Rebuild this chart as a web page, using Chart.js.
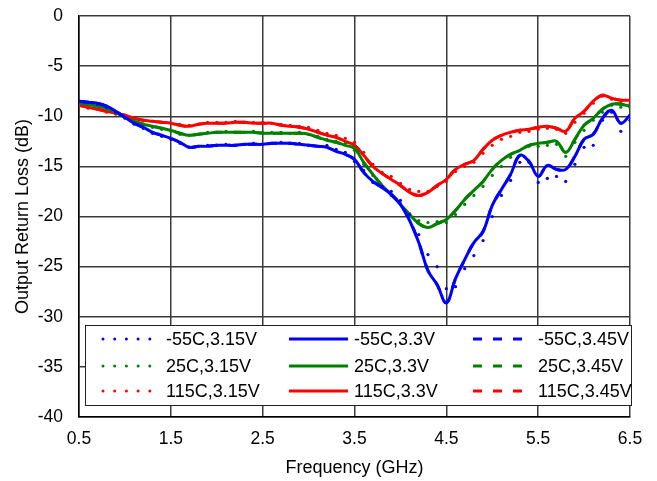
<!DOCTYPE html>
<html>
<head>
<meta charset="utf-8">
<script src="https://cdn.jsdelivr.net/npm/chart.js@4/dist/chart.umd.min.js"></script>
<style>
  html, body { margin: 0; padding: 0; background: #fff; }
  #wrap { width: 657px; height: 481px; }
</style>
</head>
<body>
<div id="wrap"><canvas id="c" width="657" height="481"></canvas></div>
<script>
// frequency points (GHz)
const freq = [0.5,0.6,0.7,0.8,0.9,1.0,1.1,1.2,1.3,1.4,1.5,1.6,1.7,1.8,1.9,2.0,2.1,2.2,2.3,2.4,
  2.5,2.6,2.7,2.8,2.9,3.0,3.1,3.2,3.3,3.4,3.5,3.6,3.7,3.8,3.9,4.0,4.1,4.2,4.3,4.4,
  4.5,4.6,4.7,4.8,4.9,5.0,5.1,5.2,5.3,5.4,5.5,5.6,5.7,5.8,5.9,6.0,6.1,6.2,6.3,6.4,6.5];

// -55C
const m55_315 = [-8.5,-8.6,-8.8,-9.1,-9.6,-10.2,-10.8,-11.2,-11.7,-12.0,-12.3,-12.7,-13.1,-13.0,-12.9,-12.9,-12.8,-12.9,-12.8,-12.7,
  -12.8,-12.7,-12.6,-12.7,-12.7,-12.9,-13.0,-12.9,-13.3,-13.6,-14.5,-15.4,-16.6,-17.0,-17.5,-18.4,-19.8,-21.8,-23.8,-25.0,
  -27.2,-27.0,-25.2,-23.9,-22.4,-20.0,-17.9,-16.4,-14.6,-14.6,-16.6,-16.2,-16.0,-16.5,-14.8,-13.1,-12.9,-10.4,-9.6,-11.5,-10.4];
const m55_33 = [-8.5,-8.6,-8.7,-9.0,-9.5,-10.1,-10.7,-11.1,-11.6,-11.9,-12.2,-12.6,-13.1,-13.0,-13.0,-12.9,-12.9,-12.9,-12.8,-12.8,
  -12.8,-12.7,-12.7,-12.7,-12.8,-12.9,-13.0,-13.1,-13.5,-13.8,-14.3,-15.6,-16.5,-17.1,-17.8,-18.8,-20.4,-22.6,-25.4,-26.8,
  -28.6,-26.2,-24.3,-22.6,-21.5,-18.9,-17.3,-15.8,-13.9,-14.5,-16.0,-14.9,-15.3,-15.3,-14.0,-12.3,-11.8,-10.2,-9.4,-10.7,-9.9];
const m55_345 = m55_33;

// 25C
const t25_315 = [-8.8,-8.9,-9.0,-9.3,-9.7,-10.1,-10.5,-10.8,-11.1,-11.3,-11.5,-11.8,-11.9,-11.8,-11.6,-11.6,-11.5,-11.6,-11.6,-11.5,
  -11.6,-11.6,-11.6,-11.7,-11.6,-11.8,-12.0,-12.3,-12.5,-12.7,-13.4,-14.8,-15.9,-17.0,-17.9,-18.7,-19.7,-20.4,-20.6,-20.5,
  -20.6,-19.8,-18.8,-17.9,-17.0,-15.9,-15.0,-14.1,-13.9,-13.0,-13.0,-12.9,-12.8,-14.0,-12.6,-11.4,-10.4,-9.6,-8.9,-9.1,-9.1];
const t25_33 = [-8.7,-8.8,-9.0,-9.2,-9.6,-10.1,-10.5,-10.8,-11.0,-11.2,-11.4,-11.7,-11.9,-11.8,-11.7,-11.6,-11.6,-11.6,-11.6,-11.6,
  -11.7,-11.7,-11.7,-11.7,-11.7,-11.8,-12.1,-12.4,-12.6,-12.9,-13.2,-14.6,-15.8,-16.9,-17.8,-18.8,-19.8,-20.7,-21.1,-20.7,
  -20.3,-19.4,-18.3,-17.4,-16.5,-15.3,-14.4,-13.8,-13.4,-12.9,-12.7,-12.6,-12.5,-13.6,-12.3,-10.9,-10.2,-9.3,-8.8,-8.8,-9.0];
const t25_345 = t25_33;

// 115C
const t115_315 = [-9.0,-9.2,-9.3,-9.6,-9.8,-10.0,-10.2,-10.4,-10.5,-10.6,-10.7,-10.8,-10.9,-10.8,-10.6,-10.6,-10.6,-10.5,-10.6,-10.6,
  -10.6,-10.7,-10.8,-10.9,-11.0,-11.1,-11.4,-11.7,-11.9,-12.2,-12.6,-13.6,-14.8,-15.6,-16.0,-16.7,-17.3,-17.5,-17.5,-17.0,
  -16.5,-15.5,-15.0,-14.6,-13.7,-12.9,-12.3,-12.0,-11.6,-11.5,-11.3,-11.2,-11.3,-11.7,-10.6,-9.7,-8.7,-8.0,-8.3,-8.7,-8.8];
const t115_33 = [-8.9,-9.1,-9.3,-9.5,-9.7,-9.9,-10.2,-10.4,-10.5,-10.6,-10.7,-10.9,-11.0,-10.8,-10.7,-10.7,-10.7,-10.6,-10.6,-10.7,
  -10.7,-10.7,-10.9,-11.0,-11.1,-11.3,-11.6,-11.9,-12.1,-12.5,-12.9,-13.9,-15.0,-15.7,-16.3,-16.9,-17.6,-17.9,-17.6,-16.9,
  -16.3,-15.3,-14.8,-14.4,-13.3,-12.4,-11.9,-11.6,-11.4,-11.3,-11.1,-11.0,-11.2,-11.5,-10.2,-9.5,-8.5,-7.9,-8.2,-8.4,-8.4];
const t115_345 = t115_33;

const xTicks = [0.5, 1.5, 2.5, 3.5, 4.5, 5.5, 6.5];
const yTicks = [0, -5, -10, -15, -20, -25, -30, -35, -40];

const FONT = "'Liberation Sans', Arial, sans-serif";
const GRID = '#3a3a3a';

function pts(arr) {
  return arr.map((v, i) => ({ x: freq[i], y: v }));
}

function dotted(label, color, arr) {
  return { label, data: pts(arr), showLine: false, pointRadius: 1.6, pointBackgroundColor: color,
    pointBorderWidth: 0, borderColor: color, backgroundColor: color, kind: 'dot' };
}
function solid(label, color, arr) {
  return { label, data: pts(arr), borderColor: color, backgroundColor: color, borderWidth: 3,
    pointRadius: 0, tension: 0.4, kind: 'solid' };
}
function dashed(label, color, arr) {
  return { label, data: pts(arr), borderColor: color, backgroundColor: color, borderWidth: 3,
    borderDash: [9, 11], pointRadius: 0, tension: 0.4, kind: 'dash' };
}

const datasets = [
  dotted('-55C,3.15V', '#0000ff', m55_315),
  solid('-55C,3.3V', '#0000ff', m55_33),
  dashed('-55C,3.45V', '#0000ff', m55_345),
  dotted('25C,3.15V', '#008000', t25_315),
  solid('25C,3.3V', '#008000', t25_33),
  dashed('25C,3.45V', '#008000', t25_345),
  dotted('115C,3.15V', '#ff0000', t115_315),
  solid('115C,3.3V', '#ff0000', t115_33),
  dashed('115C,3.45V', '#ff0000', t115_345)
];

// legend box drawn inside the plot, 3 columns x 3 rows
const boxLegend = {
  id: 'boxLegend',
  afterDatasetsDraw(chart) {
    const ctx = chart.ctx;
    const bx = 85, by = 325, bw = 546, bh = 80;
    ctx.save();
    ctx.fillStyle = '#fff';
    ctx.fillRect(bx, by, bw, bh);
    ctx.strokeStyle = '#222';
    ctx.lineWidth = 1;
    ctx.strokeRect(bx + 0.5, by + 0.5, bw, bh);
    const sampleX = [103, 289, 473];
    const textX = [166, 354, 538];
    const rowY = [339, 366, 391];
    ctx.font = '18px ' + FONT;
    ctx.textBaseline = 'middle';
    chart.data.datasets.forEach((ds, i) => {
      const c = i % 3, y = rowY[Math.floor(i / 3)];
      const x = sampleX[c];
      ctx.strokeStyle = ds.borderColor;
      ctx.fillStyle = ds.borderColor;
      if (ds.kind === 'dot') {
        for (let k = 0; k < 5; k++) {
          ctx.beginPath();
          ctx.arc(x + k * 11.7, y, 1.5, 0, Math.PI * 2);
          ctx.fill();
        }
      } else {
        ctx.lineWidth = 3;
        ctx.setLineDash(ds.kind === 'dash' ? [9, 11] : []);
        ctx.beginPath();
        ctx.moveTo(x, y);
        ctx.lineTo(x + (ds.kind === 'dash' ? 49 : 59), y);
        ctx.stroke();
        ctx.setLineDash([]);
      }
      ctx.fillStyle = '#000';
      ctx.fillText(ds.label, textX[c], y + 1);
    });
    ctx.restore();
  }
};

new Chart(document.getElementById('c'), {
  type: 'line',
  data: { datasets },
  plugins: [boxLegend],
  options: {
    responsive: false,
    animation: false,
    events: [],
    layout: { padding: { top: 16, right: 27, left: 0, bottom: 0 } },
    plugins: { legend: { display: false }, tooltip: { enabled: false } },
    scales: {
      x: {
        type: 'linear', min: 0.5, max: 6.5,
        afterBuildTicks: s => { s.ticks = xTicks.map(v => ({ value: v })); },
        afterFit: s => { s.height = 64; },
        ticks: { color: '#000', font: { size: 17.5, family: FONT }, padding: 12, callback: v => v.toFixed(1) },
        grid: { color: GRID, lineWidth: 1.5, drawTicks: false },
        border: { color: '#000', width: 1.5 },
        title: { display: true, text: 'Frequency (GHz)', color: '#000', font: { size: 18, family: FONT }, padding: { top: 4, bottom: 2 } }
      },
      y: {
        min: -40, max: 0,
        afterBuildTicks: s => { s.ticks = yTicks.map(v => ({ value: v })); },
        afterFit: s => { s.width = 79; s.paddingTop = 0; s.paddingBottom = 0; },
        ticks: { color: '#000', font: { size: 17.5, family: FONT }, padding: 16 },
        grid: { color: GRID, lineWidth: 1.5, drawTicks: false },
        border: { color: '#000', width: 1.5 },
        title: { display: true, text: 'Output Return Loss (dB)', color: '#000', font: { size: 18, family: FONT }, padding: { top: 12, bottom: 2 } }
      }
    }
  }
});
</script>
</body>
</html>
